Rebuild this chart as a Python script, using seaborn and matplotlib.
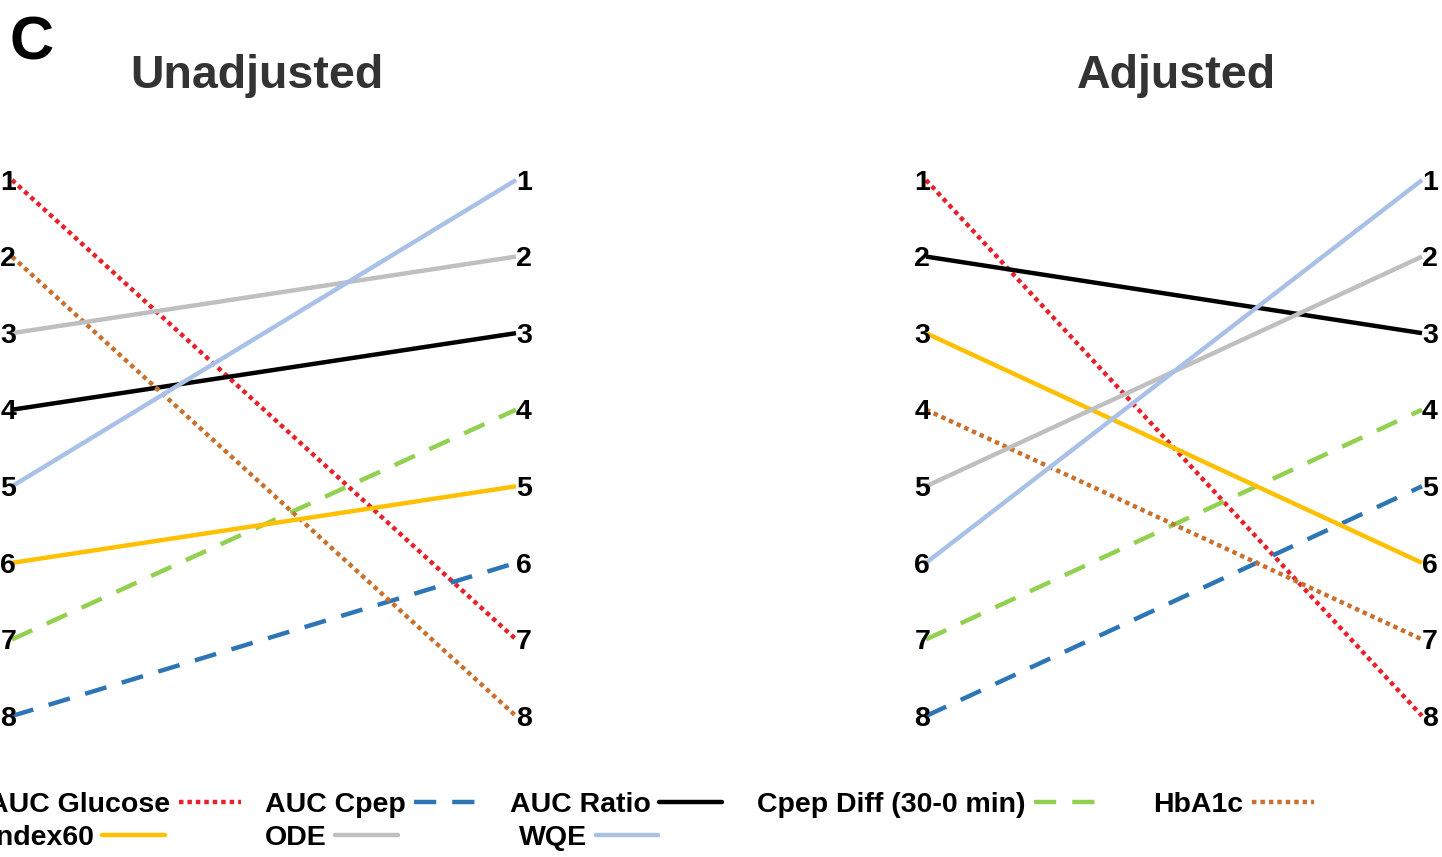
import matplotlib
matplotlib.use("Agg")
import matplotlib.pyplot as plt
from matplotlib.lines import Line2D
import pandas as pd
import seaborn as sns

# Rankings of each measure (1 = best) at the two ends of each slope panel
measures = ["AUC Glucose", "AUC Cpep", "AUC Ratio", "Cpep Diff (30-0 min)",
            "HbA1c", "Index60", "ODE", "WQE"]
unadj_left = [1, 8, 4, 7, 2, 6, 3, 5]
unadj_right = [7, 6, 3, 4, 8, 5, 2, 1]
adj_left = [1, 8, 2, 7, 4, 3, 5, 6]
adj_right = [8, 5, 3, 4, 7, 6, 2, 1]
ranks = [1, 2, 3, 4, 5, 6, 7, 8]
panel_titles = ["Unadjusted", "Adjusted"]

colors = {
    "AUC Glucose": "#E8202A",
    "AUC Cpep": "#2E75B6",
    "AUC Ratio": "#000000",
    "Cpep Diff (30-0 min)": "#92D050",
    "HbA1c": "#C8702E",
    "Index60": "#FFC000",
    "ODE": "#BFBFBF",
    "WQE": "#A9C1E6",
}
dotted = (1, 0.9)
dashed = (5, 3.6)
dashes = {
    "AUC Glucose": dotted,
    "AUC Cpep": dashed,
    "AUC Ratio": "",
    "Cpep Diff (30-0 min)": dashed,
    "HbA1c": dotted,
    "Index60": "",
    "ODE": "",
    "WQE": "",
}
LW = 3.2


def long_frame(left, right):
    rows = []
    for m, a, b in zip(measures, left, right):
        rows.append({"measure": m, "side": 0, "rank": a})
        rows.append({"measure": m, "side": 1, "rank": b})
    return pd.DataFrame(rows)


sns.set_theme(style="white")
plt.rcParams["font.family"] = ["Liberation Sans", "DejaVu Sans"]
plt.rcParams["text.color"] = "black"

W, H = 1442, 857
fig = plt.figure(figsize=(W / 100, H / 100), dpi=100)

y0 = 1 - 716 / H
hgt = (716 - 180) / H
ax_l = fig.add_axes([12 / W, y0, 504 / W, hgt])
ax_r = fig.add_axes([926 / W, y0, 496 / W, hgt])

for ax, (left, right) in zip([ax_l, ax_r], [(unadj_left, unadj_right), (adj_left, adj_right)]):
    df = long_frame(left, right)
    sns.lineplot(data=df, x="side", y="rank", hue="measure", style="measure",
                 hue_order=measures, style_order=measures, palette=colors,
                 dashes=dashes, linewidth=LW, legend=False, ax=ax)
    for ln in ax.lines:
        ln.set_clip_on(False)
        ln.set_solid_capstyle("butt")
    ax.set_xlim(0, 1)
    ax.set_ylim(8, 1)
    ax.axis("off")
    for r in ranks:
        ax.annotate(str(r), xy=(0, r), xytext=(3, -2), textcoords="offset points",
                    ha="right", va="center", fontsize=20.5, fontweight="bold",
                    color="black", annotation_clip=False)
        ax.annotate(str(r), xy=(1, r), xytext=(0, -2), textcoords="offset points",
                    ha="left", va="center", fontsize=20.5, fontweight="bold",
                    color="black", annotation_clip=False)

# Panel titles and panel letter
fig.text(257 / W, 1 - 88 / H, panel_titles[0], ha="center", va="baseline",
         fontsize=33.5, fontweight="bold", color="#333333")
fig.text(1176 / W, 1 - 88 / H, panel_titles[1], ha="center", va="baseline",
         fontsize=33.5, fontweight="bold", color="#333333")
fig.text(9 / W, 1 - 60 / H, "C", ha="left", va="baseline",
         fontsize=44, fontweight="bold", color="#000000")

# Legend: label followed by its line sample, laid out on two rows
legend_pos = [(-12, 805), (265, 805), (510, 805), (757, 805), (1153, 805),
              (-12, 838), (265, 838), (519, 838)]
for m, (px, py) in zip(measures, legend_pos):
    d = dashes[m]
    h = Line2D([], [], color=colors[m], linewidth=LW,
               linestyle=(0, d) if d else "-")
    leg = fig.legend(handles=[h], labels=[m], loc="center left",
                     bbox_to_anchor=(px / W, 1 - py / H), frameon=False,
                     markerfirst=False, borderpad=0, borderaxespad=0,
                     handletextpad=0.3, handlelength=2.2,
                     prop={"size": 20.5, "weight": "bold"})
    for t in leg.get_texts():
        t.set_color("black")

fig.savefig("out.png", dpi=100)
